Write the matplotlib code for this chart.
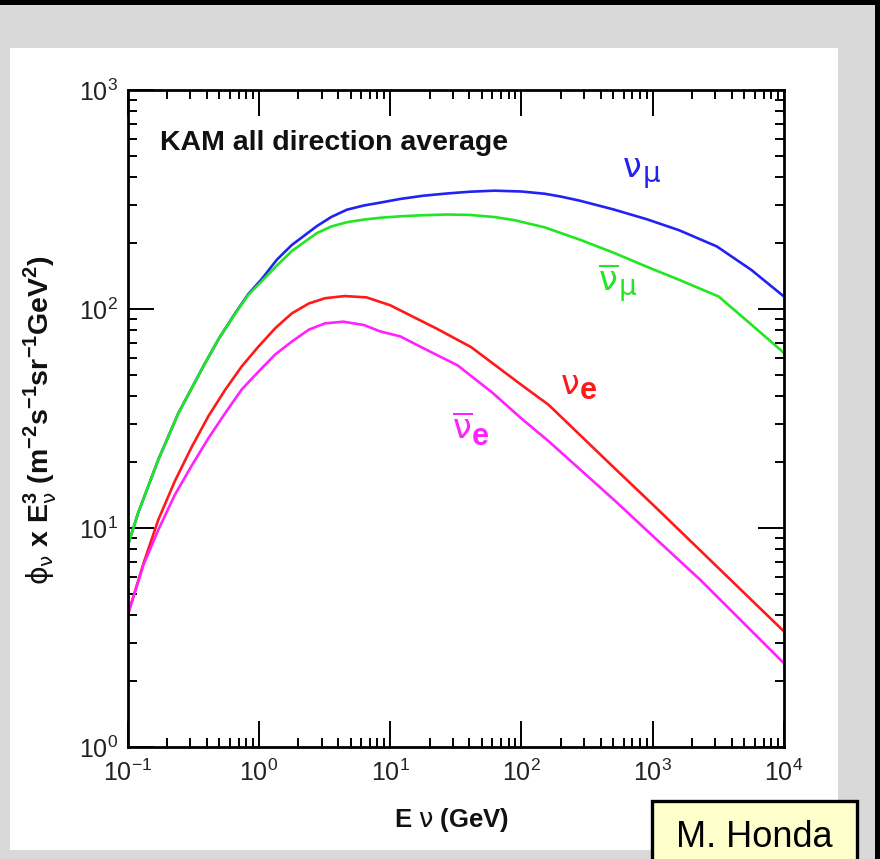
import matplotlib
matplotlib.use('Agg')
import matplotlib.pyplot as plt
from matplotlib.patches import Rectangle
from matplotlib.ticker import NullFormatter, LogLocator

plt.rcParams['font.family'] = 'Liberation Sans'
plt.rcParams['mathtext.fontset'] = 'custom'
plt.rcParams['mathtext.rm'] = 'Liberation Sans'
plt.rcParams['mathtext.it'] = 'DejaVu Sans'
plt.rcParams['mathtext.bf'] = 'Liberation Sans:bold'

# neutrino energy (GeV) and flux x E^3
e_numu = [0.1, 0.12, 0.171, 0.243, 0.388, 0.5, 0.658, 0.83, 1.05, 1.37, 1.78, 2.76,
          3.55, 4.67, 6.31, 8.4, 11.9, 17.8, 27.3, 39.8, 62, 100, 150, 200, 280,
          501, 900, 1585, 3080, 5623, 10000]
flux_numu = [8.3, 11.7, 20.5, 33.4, 56.5, 74, 95.5, 117, 137, 168, 196, 239,
             263, 284, 297, 306, 318, 329, 337, 343, 347, 344, 336, 326, 312,
             285, 257, 229, 193, 151, 114]

e_anumu = [0.1, 0.12, 0.171, 0.243, 0.388, 0.5, 0.658, 0.83, 1.05, 1.37, 1.78, 2.76,
           3.55, 4.67, 6.31, 8.4, 11.9, 17.8, 27, 40, 62, 87, 150, 280,
           500, 900, 1585, 3180, 5623, 10000]
flux_anumu = [8.3, 11.7, 20.5, 33.4, 56.5, 74, 95, 116, 134, 158, 184, 222,
              238, 249, 256, 261, 265, 268, 270, 269, 263, 255, 236, 207,
              181, 156, 136, 114, 85, 63]

e_nue = [0.1, 0.132, 0.171, 0.229, 0.308, 0.412, 0.552, 0.741, 0.99, 1.33, 1.78, 2.40,
         3.19, 4.5, 6.6, 10, 22.9, 41.3, 100, 161, 524, 1000, 2300, 10000]
flux_nue = [4.0, 6.9, 10.9, 16.4, 23.5, 32.4, 42.7, 54.8, 67.3, 81.7, 95.5, 106,
            112, 114.6, 113, 104, 81, 67, 45, 36.5, 18.5, 12.8, 7.9, 3.37]

e_anue = [0.1, 0.132, 0.171, 0.229, 0.308, 0.412, 0.552, 0.741, 0.99, 1.33, 1.78, 2.40,
          3.19, 4.4, 6.3, 8.4, 11.9, 20, 32.6, 60, 100, 161, 524, 1000, 2300, 10000]
flux_anue = [4.0, 6.8, 9.8, 14.2, 19.3, 25.7, 33.4, 43, 51.7, 62, 71, 80.5,
             86, 87.5, 84.5, 79, 75, 64, 55.3, 41.5, 31.6, 24.9, 13.2, 9.2, 5.8, 2.41]

x_ticks = [0.1, 1, 10, 100, 1000, 10000]
x_labels = ['-1', '0', '1', '2', '3', '4']
y_ticks = [1, 10, 100, 1000]
y_labels = ['0', '1', '2', '3']

c_blue = '#2222f5'
c_green = '#22e622'
c_red = '#ff1a1a'
c_mag = '#ff22ff'

W, H = 880, 859


def fx(px):
    return px / W


def fy(py):
    return 1 - py / H


fig = plt.figure(figsize=(8.8, 8.59), dpi=100)
fig.patch.set_facecolor('#d9d9d9')

# frame: white panel, dark top/right edges
fig.patches.append(Rectangle((fx(10), fy(850)), fx(838) - fx(10), fy(48) - fy(850),
                             transform=fig.transFigure, facecolor='white', edgecolor='none', zorder=-5))
fig.patches.append(Rectangle((0, fy(5)), 1, 5 / H, transform=fig.transFigure,
                             facecolor='black', edgecolor='none', zorder=-5))
fig.patches.append(Rectangle((fx(875), 0), 5 / W, 1, transform=fig.transFigure,
                             facecolor='black', edgecolor='none', zorder=-5))

ax = fig.add_axes([fx(127.7), fy(747), fx(784) - fx(127.7), fy(90) - fy(747)])
ax.set_zorder(2)
ax.set_facecolor('white')
ax.set_xscale('log')
ax.set_yscale('log')
ax.set_xlim(0.1, 10000)
ax.set_ylim(1, 1000)

for e, f, c in [(e_numu, flux_numu, c_blue), (e_anumu, flux_anumu, c_green),
                (e_nue, flux_nue, c_red), (e_anue, flux_anue, c_mag)]:
    ax.plot(e, f, color=c, lw=1.9, solid_joinstyle='round')

ax.set_xticks(x_ticks)
ax.set_xticklabels([r'$\mathregular{10^{' + s + '}}$' for s in x_labels])
ax.set_yticks(y_ticks)
ax.set_yticklabels([r'$\mathregular{10^{' + s + '}}$' for s in y_labels])
ax.xaxis.set_minor_locator(LogLocator(base=10, subs=range(2, 10), numticks=20))
ax.yaxis.set_minor_locator(LogLocator(base=10, subs=range(2, 10), numticks=20))
ax.xaxis.set_minor_formatter(NullFormatter())
ax.yaxis.set_minor_formatter(NullFormatter())

ax.tick_params(which='major', direction='in', length=19, width=1.4, top=True, right=True,
               labelsize=18, colors='black', labelcolor='#222222')
ax.tick_params(which='minor', direction='in', length=6.5, width=1.4, top=True, right=True)
ax.tick_params(axis='x', which='major', pad=9)
ax.tick_params(axis='y', which='major', pad=7)
for sp in ax.spines.values():
    sp.set_linewidth(2.0)

# texts
fig.text(fx(160), fy(150), 'KAM all direction average', fontsize=20.5, fontweight='bold',
         color='#111111', va='baseline')

fig.text(fx(40), fy(420),
         r'$\phi_\nu$ x E$_\nu^{\mathbf{3}}$ (m$^{\mathbf{-2}}$s$^{\mathbf{-1}}$sr$^{\mathbf{-1}}$GeV$^{\mathbf{2}}$)',
         rotation=90, fontsize=20.5, fontweight='bold', ha='center', va='center', color='#111111')

fig.text(fx(452), fy(820), r'E $\nu$ (GeV)', fontsize=18.5, fontweight='bold',
         ha='center', va='center', color='#111111')

# curve labels
fig.text(fx(622), fy(177), r'$\nu$', fontsize=24, color=c_blue, va='baseline')
fig.text(fx(642), fy(182), r'$\mu$', fontsize=20, color=c_blue, va='baseline')

fig.text(fx(598), fy(290), r'$\overline{\nu}$', fontsize=24, color=c_green, va='baseline')
fig.text(fx(618), fy(295), r'$\mu$', fontsize=20, color=c_green, va='baseline')

fig.text(fx(560), fy(394), r'$\nu$', fontsize=24, color=c_red, va='baseline')
fig.text(fx(580), fy(399), 'e', fontsize=22, fontweight='bold', color=c_red, va='baseline')

fig.text(fx(452), fy(438), r'$\overline{\nu}$', fontsize=24, color=c_mag, va='baseline')
fig.text(fx(472), fy(445), 'e', fontsize=22, fontweight='bold', color=c_mag, va='baseline')

# name box
fig.patches.append(Rectangle((fx(652), fy(875)), fx(857) - fx(652), fy(801) - fy(875),
                             transform=fig.transFigure, facecolor='#ffffcc', edgecolor='black',
                             lw=2.4, zorder=5))
fig.text(fx(754), fy(847), 'M. Honda', fontsize=26, ha='center', va='baseline',
         color='black', zorder=6)

fig.savefig('out.png', dpi=100, facecolor=fig.get_facecolor())
